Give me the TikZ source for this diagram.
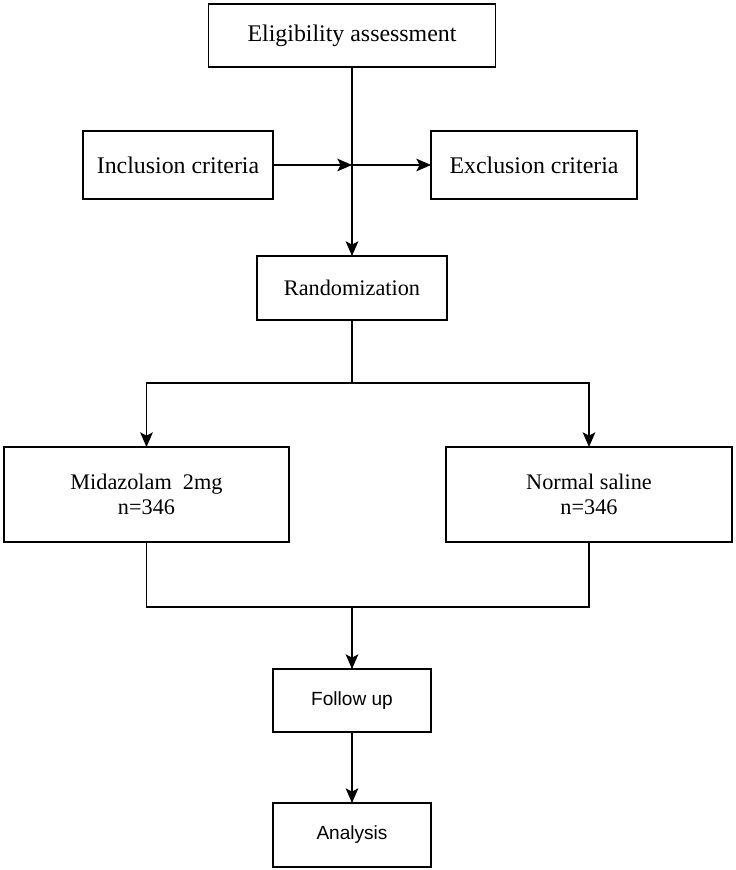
\documentclass[tikz,border=0pt]{standalone}
\usepackage{fontspec}
\setmainfont{Liberation Serif}
\setsansfont{Liberation Sans}
\usetikzlibrary{arrows.meta}
\begin{document}
\begin{tikzpicture}[x=0.75pt,y=-0.75pt,
  box/.style={draw=black,line width=1.3pt,inner sep=0pt,outer sep=0pt,align=center,fill=white},
  bigtxt/.style={font=\fontsize{17.9}{21}\selectfont},
  midtxt/.style={font=\fontsize{16.7}{18.8}\selectfont},
  sanstxt/.style={font=\sffamily\fontsize{14.3}{17}\selectfont},
  conn/.style={line width=1.2pt},
  arr/.style={conn,-{Stealth[length=11pt,width=9.5pt,inset=2.5pt]}}]
\useasboundingbox (0,0) rectangle (735,870);
\node[box,bigtxt,minimum width=215.25pt,minimum height=47.25pt] (elig) at (352,35.5) {Eligibility assessment};
\node[box,bigtxt,minimum width=142.5pt,minimum height=51pt] (incl) at (178,165) {Inclusion criteria};
\node[box,bigtxt,minimum width=154.5pt,minimum height=51pt] (excl) at (534,165) {Exclusion criteria};
\node[box,midtxt,minimum width=142.5pt,minimum height=48pt] (rand) at (352,288) {Randomization};
\node[box,midtxt,minimum width=213.75pt,minimum height=71.25pt] (mid) at (146.5,494.5) {Midazolam\ \ 2mg\\n=346};
\node[box,midtxt,minimum width=214.5pt,minimum height=71.25pt] (ns) at (589,494.5) {Normal saline\\n=346};
\node[box,sanstxt,minimum width=118.5pt,minimum height=47.25pt] (fu) at (352,700.5) {Follow up};
\node[box,sanstxt,minimum width=118.5pt,minimum height=48pt] (an) at (352,835) {Analysis};
\coordinate (j1) at (352,165);
\coordinate (j2) at (352,383);
\coordinate (j3) at (352,607);
\draw[arr] (elig.south) -- (rand.north);
\draw[arr] (incl.east) -- (j1);
\draw[arr] (j1) -- (excl.west);
\draw[conn] (rand.south) -- (j2);
\draw[arr] (j2) -| (mid.north);
\draw[arr] (j2) -| (ns.north);
\draw[conn] (mid.south) |- (j3) -| (ns.south);
\draw[arr] (j3) -- (fu.north);
\draw[arr] (fu.south) -- (an.north);
\end{tikzpicture}
\end{document}
